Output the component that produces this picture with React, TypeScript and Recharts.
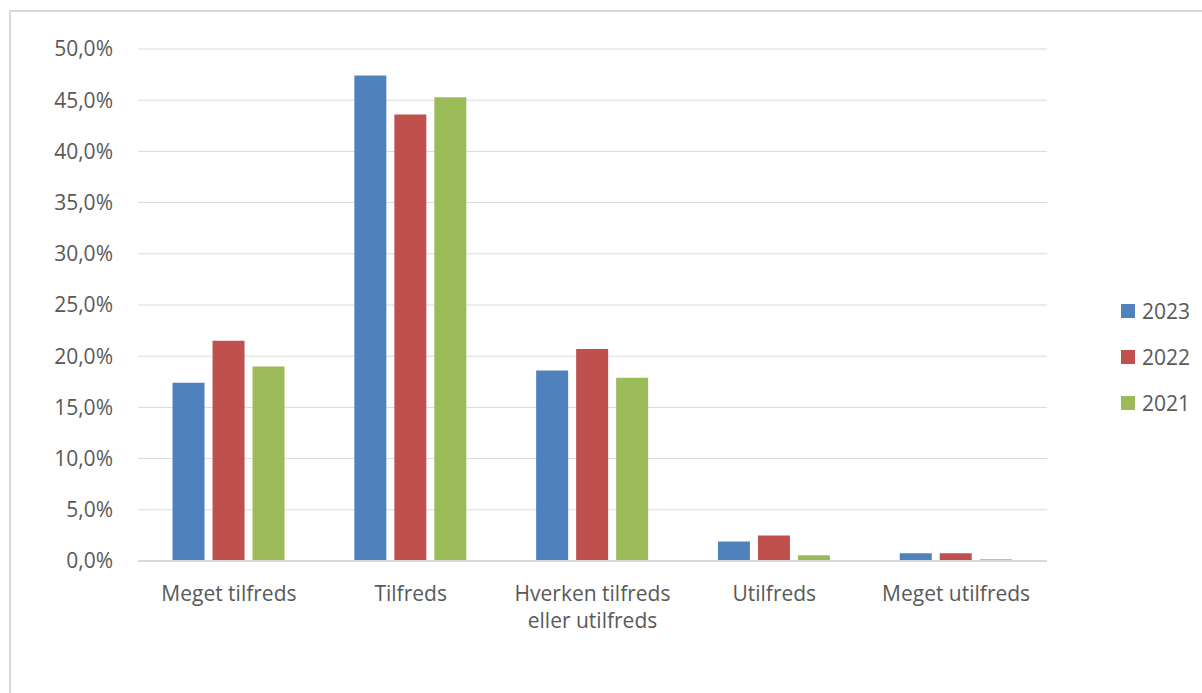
import { BarChart, Bar, XAxis, YAxis, CartesianGrid } from "recharts";

const categories = [
  "Meget tilfreds",
  "Tilfreds",
  "Hverken tilfreds eller utilfreds",
  "Utilfreds",
  "Meget utilfreds",
];
const values2023 = [17.4, 47.4, 18.6, 1.9, 0.75];
const values2022 = [21.5, 43.6, 20.7, 2.5, 0.75];
const values2021 = [19.0, 45.3, 17.9, 0.55, 0.17];
const yTicks = [0, 5, 10, 15, 20, 25, 30, 35, 40, 45, 50];

const seriesInfo = [
  { key: "y2023", name: "2023", color: "#4F81BD" },
  { key: "y2022", name: "2022", color: "#C0504D" },
  { key: "y2021", name: "2021", color: "#9BBB59" },
];

const data = categories.map((c, i) => ({
  category: c,
  y2023: values2023[i],
  y2022: values2022[i],
  y2021: values2021[i],
}));

const FONT = "'Open Sans', Lato, sans-serif";
const TEXT = "#595959";
const FS = 21;

function wrap(label: string, max = 17) {
  const words = label.split(" ");
  const lines: string[] = [];
  let cur = "";
  for (const w of words) {
    if (cur && (cur + " " + w).length > max) {
      lines.push(cur);
      cur = w;
    } else {
      cur = cur ? cur + " " + w : w;
    }
  }
  if (cur) lines.push(cur);
  return lines;
}

function XTick(props: any) {
  const { x, y, payload } = props;
  const lines = wrap(String(payload.value));
  return (
    <text x={x} y={y} textAnchor="middle" fill={TEXT} fontSize={FS} fontFamily={FONT}>
      {lines.map((l, i) => (
        <tspan key={i} x={x} dy={i === 0 ? "0.9em" : 27}>
          {l}
        </tspan>
      ))}
    </text>
  );
}

function LegendBox() {
  return (
    <div
      style={{
        position: "absolute",
        left: 1121,
        top: 288,
        fontFamily: FONT,
        fontSize: FS,
        color: TEXT,
      }}
    >
      {seriesInfo.map((s) => (
        <div key={s.key} style={{ display: "flex", alignItems: "center", height: 46 }}>
          <span style={{ width: 14, height: 14, background: s.color, marginRight: 7 }} />
          <span>{s.name}</span>
        </div>
      ))}
    </div>
  );
}

export default function App() {
  return (
    <div style={{ position: "absolute", left: 0, top: 0, width: 1202, height: 693, background: "#fff" }}>
      <div
        style={{
          position: "absolute",
          left: 9,
          top: 10,
          width: 1200,
          height: 690,
          borderLeft: "2px solid #d9d9d9",
          borderTop: "2px solid #d9d9d9",
          boxSizing: "border-box",
        }}
      />
      <div style={{ position: "absolute", left: 0, top: 0 }}>
        <BarChart
          width={1202}
          height={693}
          data={data}
          margin={{ top: 49, right: 155, bottom: 0, left: 0 }}
          barCategoryGap="19%"
          barGap={8}
        >
          <CartesianGrid vertical={false} stroke="#d9d9d9" strokeWidth={1} />
          <XAxis
            dataKey="category"
            tick={<XTick />}
            tickLine={false}
            axisLine={{ stroke: "#d9d9d9", strokeWidth: 2 }}
            height={132}
            tickMargin={15}
            interval={0}
          />
          <YAxis
            domain={[0, 50]}
            ticks={yTicks}
            width={138}
            tickLine={false}
            axisLine={false}
            tickSize={6}
            tickMargin={19}
            tick={{ fill: TEXT, fontSize: FS, fontFamily: FONT }}
            tickFormatter={(v: number) => v.toFixed(1).replace(".", ",") + "%"}
          />
          {seriesInfo.map((s) => (
            <Bar key={s.key} dataKey={s.key} name={s.name} fill={s.color} isAnimationActive={false} />
          ))}
        </BarChart>
      </div>
      <LegendBox />
    </div>
  );
}
